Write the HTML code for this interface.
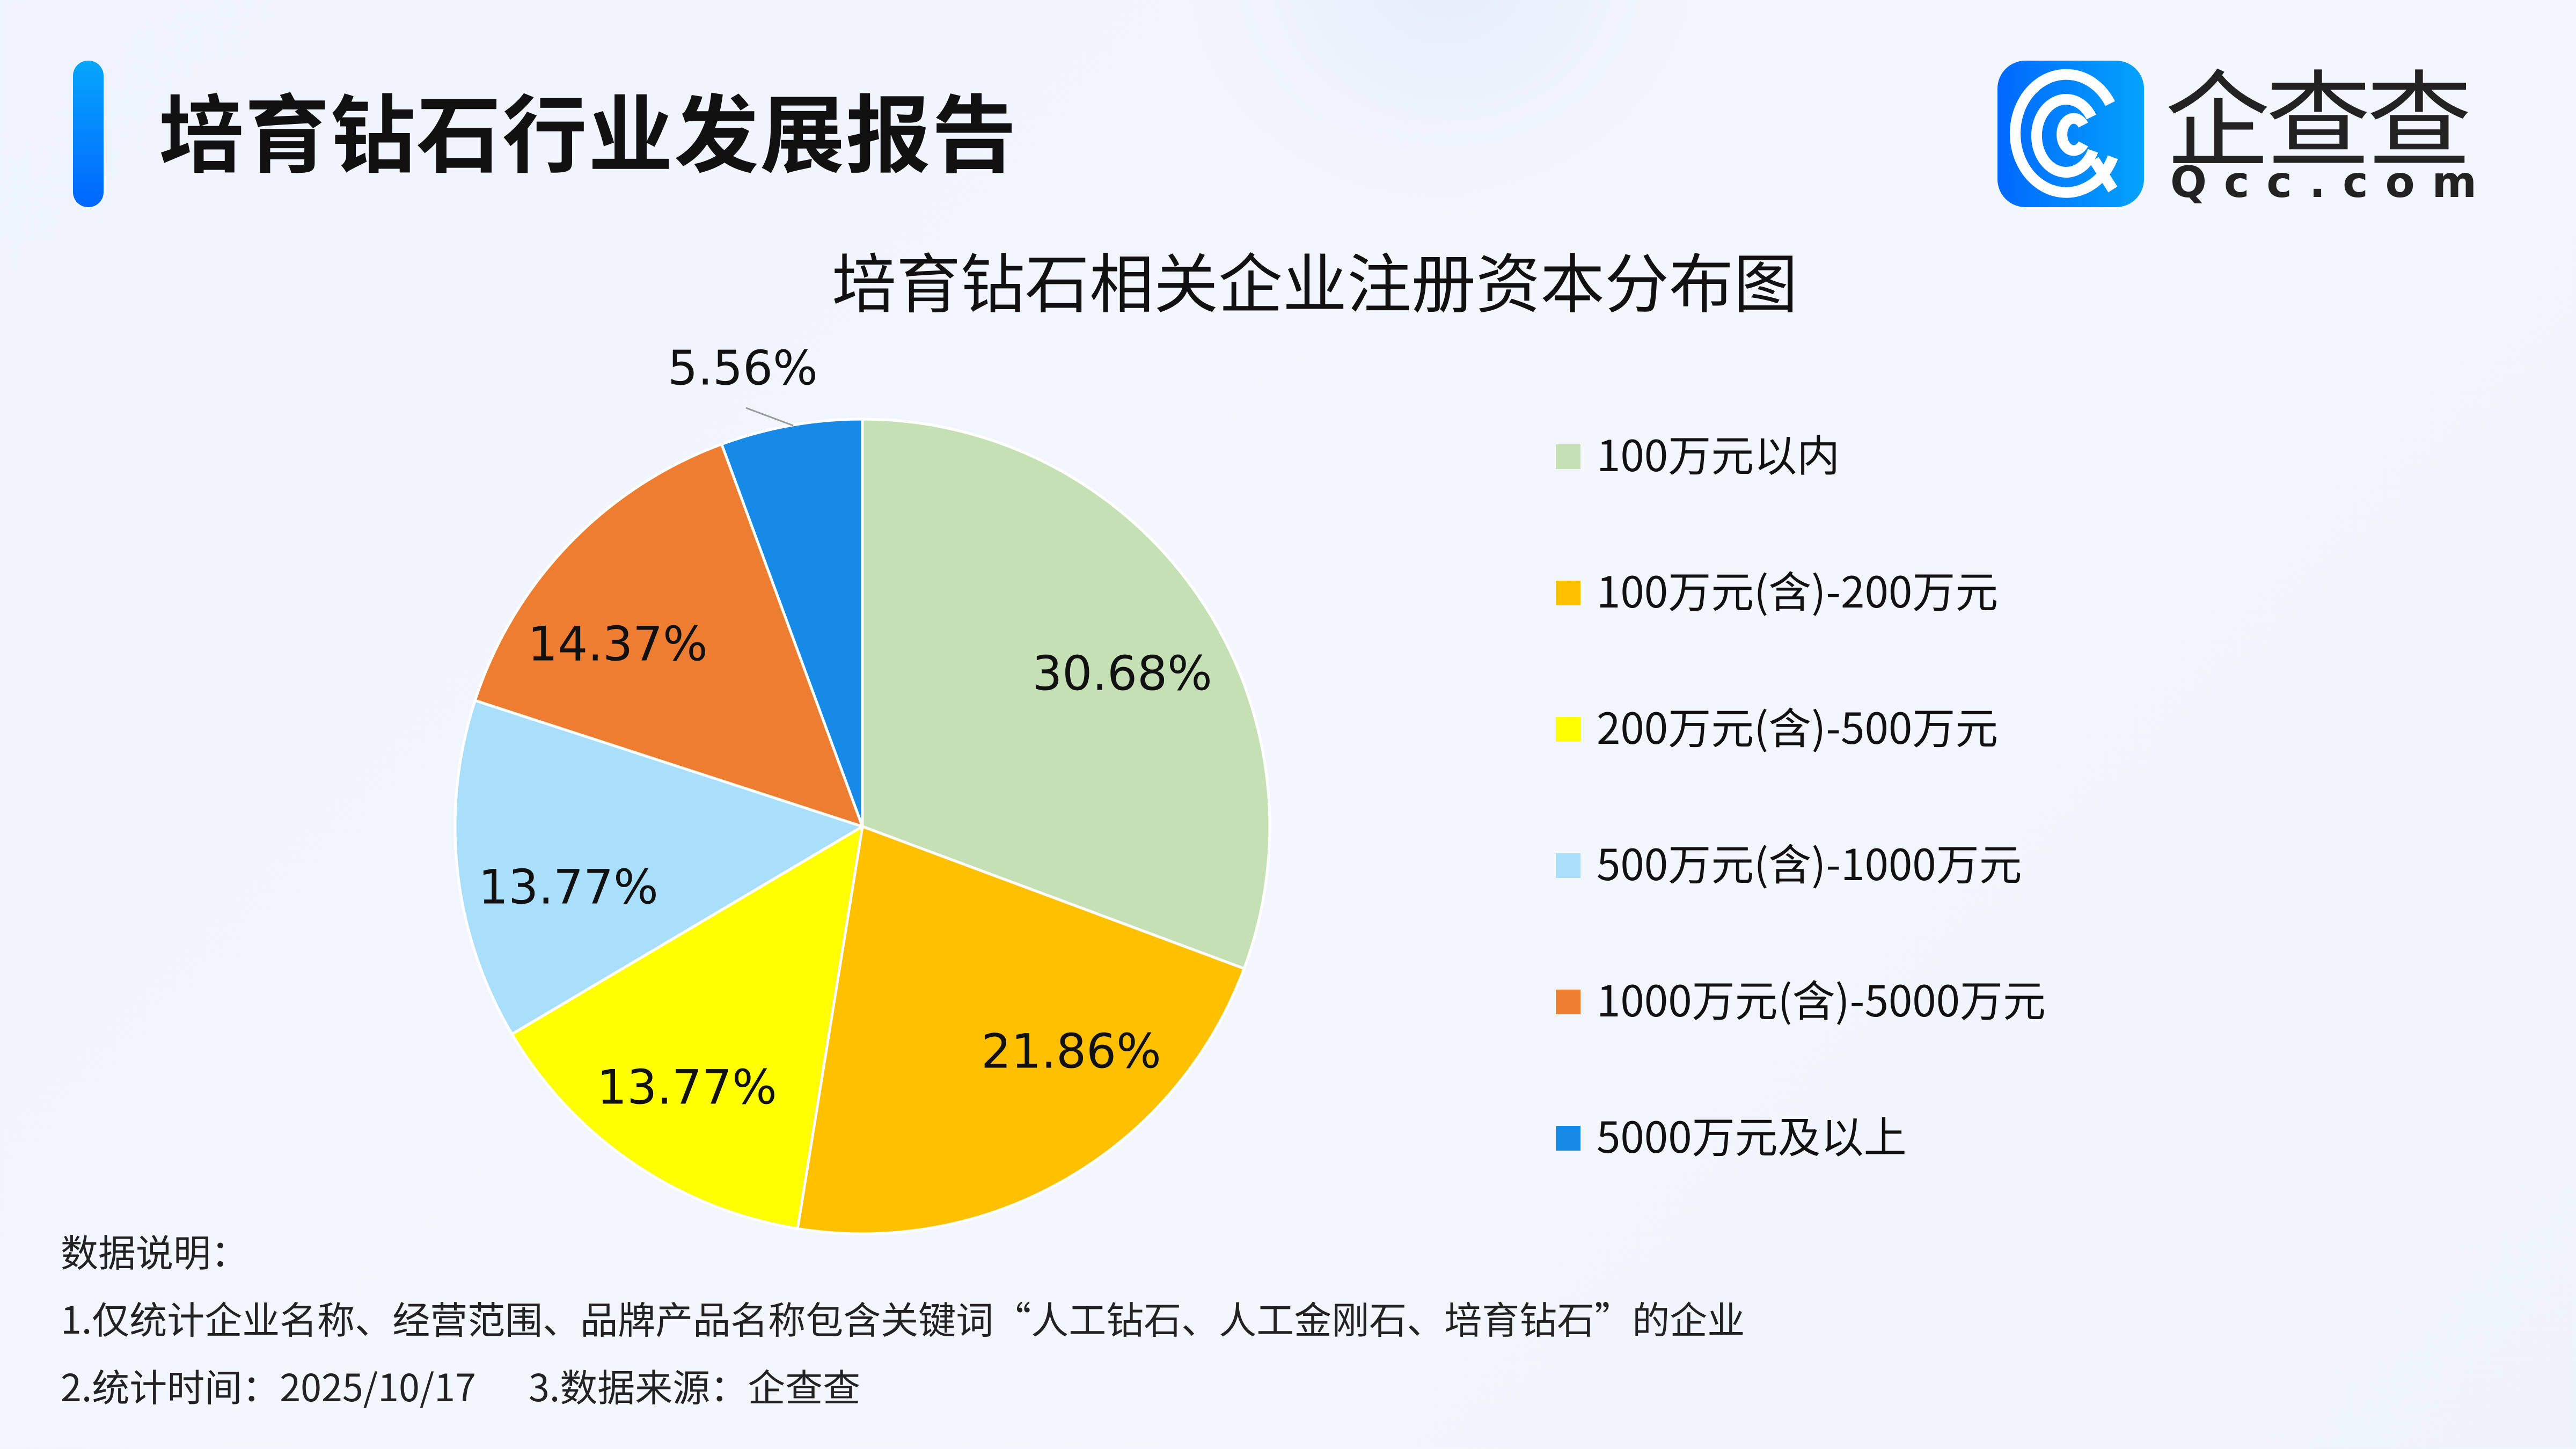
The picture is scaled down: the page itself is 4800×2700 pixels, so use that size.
<!DOCTYPE html>
<html><head><meta charset="utf-8"><style>
html,body{margin:0;padding:0}
body{width:4800px;height:2700px;position:relative;overflow:hidden;background:linear-gradient(135deg,#eef3fd 0%,#f3f6fd 50%,#eef3fb 100%);font-family:"Liberation Sans","Noto Sans CJK SC",sans-serif;color:#111}
.abs{position:absolute;white-space:nowrap}
.leg{position:absolute;left:2899px;width:46px;height:46px}
.lt{position:absolute;left:2975px;font-size:80px;line-height:1;color:#111;font-family:"Noto Sans CJK SC",sans-serif}
.ft{position:absolute;left:113px;font-size:70px;line-height:1;color:#222;font-family:"Noto Sans CJK SC",sans-serif}
</style></head><body>
<div class="abs" style="left:2200px;top:-500px;width:1000px;height:900px;border-radius:50%;background:radial-gradient(#e6eefc,rgba(230,238,252,0) 70%)"></div>
<div class="abs" style="left:136px;top:113px;width:57px;height:273px;border-radius:28px;background:linear-gradient(#06a6fb,#0066ff)"></div>
<div class="abs" style="left:296px;top:150px;font-size:158px;font-weight:bold;line-height:180px;letter-spacing:2px;font-family:'Noto Sans CJK SC',sans-serif">培育钻石行业发展报告</div>
<div class="abs" style="left:3722px;top:113px;width:273px;height:273px;border-radius:52px;background:linear-gradient(90deg,#0068ff,#04a3fb)"></div>
<svg class="abs" style="left:3722px;top:113px" width="273" height="273" viewBox="0 0 273 273">
<g fill="none" stroke="#fff" stroke-width="20">
<path d="M215 180 A95 110 0 1 1 210 80"/>
<path d="M175 105 A55 68 0 1 0 178 168"/>
<path d="M160 120 A22 30 0 1 0 160 155"/>
<path d="M180 185 L215 240"/>
</g></svg>
<div class="abs" style="left:4034px;top:100px;font-size:196px;line-height:220px;color:#222;font-family:'Noto Sans CJK SC',sans-serif;font-weight:400;letter-spacing:-8px">企查查</div>
<div class="abs" style="left:4044px;top:298px;font-size:80px;line-height:84px;color:#222;letter-spacing:32px;font-weight:bold;font-family:'DejaVu Sans',sans-serif">Qcc.com</div>
<div class="abs" style="left:0;width:4900px;text-align:center;top:450px;font-size:120px;line-height:140px;font-family:'Noto Sans CJK SC',sans-serif;color:#111">培育钻石相关企业注册资本分布图</div>
<svg class="abs" style="left:0;top:0" width="4800" height="2700">
<g stroke="#fff" stroke-width="5" stroke-linejoin="round">
<path d="M1607 1540 L1607 781 A759 759 0 0 1 2318.3 1804.8Z" fill="#c5e0b4"/>
<path d="M1607 1540 L2318.3 1804.8 A759 759 0 0 1 1486.1 2289.3Z" fill="#ffc000"/>
<path d="M1607 1540 L1486.1 2289.3 A759 759 0 0 1 954 1926.9Z" fill="#ffff00"/>
<path d="M1607 1540 L954 1926.9 A759 759 0 0 1 885.2 1305.2Z" fill="#a9dffa"/>
<path d="M1607 1540 L885.2 1305.2 A759 759 0 0 1 1344.7 827.7Z" fill="#ed7d31"/>
<path d="M1607 1540 L1344.7 827.7 A759 759 0 0 1 1607 781Z" fill="#168ae6"/>
</g>
<path d="M1390 760 L1478 793" stroke="#999" stroke-width="3" fill="none"/>
<g font-family="'DejaVu Sans',sans-serif" font-size="88" fill="#111" text-anchor="middle" dominant-baseline="central">
<text x="2091" y="1255">30.68%</text>
<text x="1996" y="1959">21.86%</text>
<text x="1280" y="2026">13.77%</text>
<text x="1059" y="1653">13.77%</text>
<text x="1151" y="1200">14.37%</text>
<text x="1384" y="686">5.56%</text>
</g></svg>
<div class="leg" style="top:828px;background:#c5e0b4"></div><div class="lt" style="top:804px">100万元以内</div>
<div class="leg" style="top:1082px;background:#ffc000"></div><div class="lt" style="top:1058px">100万元(含)-200万元</div>
<div class="leg" style="top:1336px;background:#ffff00"></div><div class="lt" style="top:1312px">200万元(含)-500万元</div>
<div class="leg" style="top:1590px;background:#a9dffa"></div><div class="lt" style="top:1566px">500万元(含)-1000万元</div>
<div class="leg" style="top:1844px;background:#ed7d31"></div><div class="lt" style="top:1820px">1000万元(含)-5000万元</div>
<div class="leg" style="top:2098px;background:#168ae6"></div><div class="lt" style="top:2074px">5000万元及以上</div>
<div class="ft" style="top:2296px">数据说明：</div>
<div class="ft" style="top:2421px">1.仅统计企业名称、经营范围、品牌产品名称包含关键词“人工钻石、人工金刚石、培育钻石”的企业</div>
<div class="ft" style="top:2547px">2.统计时间：2025/10/17<span style="display:inline-block;width:98px"></span>3.数据来源：企查查</div>
</body></html>
